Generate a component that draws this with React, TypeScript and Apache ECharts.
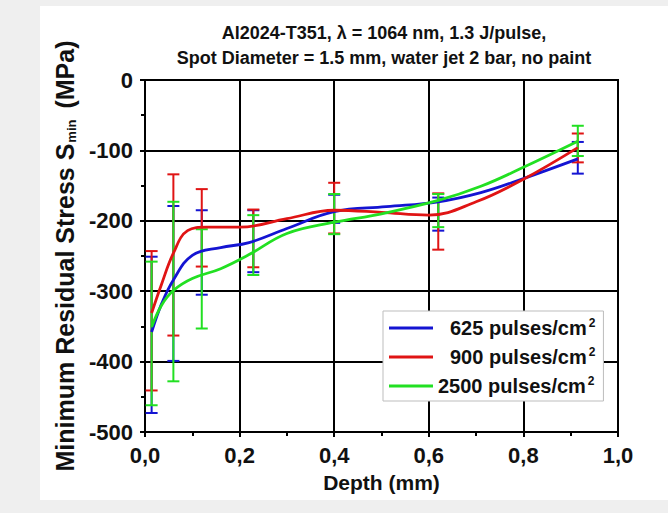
import React, { useEffect, useRef } from "react";
import * as echarts from "echarts";

// ---- data ----
const seriesNames = ["625 pulses/cm²", "900 pulses/cm²", "2500 pulses/cm²"];
const seriesColors = ["#1414d2", "#e01414", "#22e022"];

// fitted curves [depth (mm), stress (MPa)]
const curve625: number[][] = [
  [0.014, -358], [0.035, -318], [0.06, -284], [0.1, -249], [0.16, -238],
  [0.22, -231], [0.3, -211], [0.4, -187], [0.51, -180], [0.62, -173], [0.71, -160],
  [0.8, -140], [0.915, -112],
];
const curve900: number[][] = [
  [0.014, -331], [0.035, -290], [0.06, -246], [0.09, -214], [0.13, -209],
  [0.2, -209], [0.3, -197], [0.4, -185], [0.5, -188], [0.6, -192], [0.7, -173],
  [0.8, -141], [0.915, -96],
];
const curve2500: number[][] = [
  [0.014, -351], [0.035, -320], [0.06, -299], [0.1, -282], [0.16, -268],
  [0.22, -248], [0.3, -218], [0.4, -202], [0.5, -190], [0.62, -171], [0.71, -151],
  [0.8, -124], [0.915, -87],
];

// error bars [depth, low, high]
const err625: number[][] = [
  [0.014, -473, -251], [0.06, -399, -179], [0.12, -305, -185], [0.229, -273, -185],
  [0.4, -203, -163], [0.62, -214, -167], [0.915, -133, -88],
];
const err900: number[][] = [
  [0.014, -441, -243], [0.06, -363, -134], [0.12, -265, -155], [0.229, -266, -184],
  [0.4, -218, -146], [0.62, -241, -161], [0.915, -117, -76],
];
const err2500: number[][] = [
  [0.014, -462, -258], [0.06, -428, -173], [0.12, -353, -212], [0.229, -277, -192],
  [0.4, -219, -162], [0.62, -209, -162], [0.915, -108, -65],
];

const titleText = "Al2024-T351, λ = 1064 nm, 1.3 J/pulse,\nSpot Diameter = 1.5 mm, water jet 2 bar, no paint";
const xAxisName = "Depth (mm)";
const xMin = 0;
const xMax = 1.0;
const xInterval = 0.2;
const yMin = -500;
const yMax = 0;
const yInterval = 100;

const FONT = "'Liberation Sans', Arial, sans-serif";

function errorSeries(data: number[][], color: string, z: number) {
  return {
    type: "custom",
    silent: true,
    z,
    data,
    encode: { x: 0, y: [1, 2] },
    renderItem: (params: any, api: any) => {
      const x = api.value(0);
      const lo = api.coord([x, api.value(1)]);
      const hi = api.coord([x, api.value(2)]);
      const cap = 6;
      const style = { stroke: color, lineWidth: 2, fill: "none" };
      return {
        type: "group",
        children: [
          { type: "line", shape: { x1: lo[0], y1: lo[1], x2: hi[0], y2: hi[1] }, style },
          { type: "line", shape: { x1: lo[0] - cap, y1: lo[1], x2: lo[0] + cap, y2: lo[1] }, style },
          { type: "line", shape: { x1: hi[0] - cap, y1: hi[1], x2: hi[0] + cap, y2: hi[1] }, style },
        ],
      };
    },
  };
}

function lineSeries(name: string, data: number[][], color: string, z: number) {
  return {
    type: "line",
    name,
    data,
    z,
    smooth: 0.4,
    symbol: "none",
    showSymbol: false,
    lineStyle: { color, width: 2.8 },
    itemStyle: { color },
  };
}

export default function App() {
  const ref = useRef<HTMLDivElement>(null);
  useEffect(() => {
    if (!ref.current) return;
    const chart = echarts.init(ref.current, undefined, { renderer: "svg" });
    const curves = [curve625, curve900, curve2500];
    const errs = [err625, err900, err2500];
    const series: any[] = [];
    errs.forEach((e, i) => series.push(errorSeries(e, seriesColors[i], 3 + i)));
    curves.forEach((c, i) => series.push(lineSeries(seriesNames[i], c, seriesColors[i], 6 + i)));

    chart.setOption({
      animation: false,
      backgroundColor: "#efefef",
      textStyle: { fontFamily: FONT },
      graphic: [
        { type: "rect", silent: true, z: -10, shape: { x: 40, y: 6, width: 628, height: 494 }, style: { fill: "#ffffff" } },
      ],
      title: {
        text: titleText,
        left: 379,
        top: 15,
        textAlign: "center",
        textStyle: { fontFamily: FONT, fontSize: 18, fontWeight: "bold", color: "#111", lineHeight: 25 },
      },
      grid: {
        left: 145,
        right: 50,
        top: 80,
        bottom: 81,
        show: true,
        borderColor: "#000",
        borderWidth: 2,
        backgroundColor: "transparent",
      },
      legend: {
        data: seriesNames,
        orient: "vertical",
        left: 383,
        top: 311,
        padding: [6, 8, 5, 6],
        itemGap: 8,
        itemWidth: 44,
        itemHeight: 3,
        icon: "rect",
        backgroundColor: "#ffffff",
        borderColor: "#bdbdbd",
        borderWidth: 1,
        formatter: (name: string) => {
          const base = name.replace("²", "");
          const pad = base.startsWith("2500") ? "" : "{p| }";
          return `${pad}{a|${base}}{s|2}`;
        },
        textStyle: {
          fontFamily: FONT,
          rich: {
            p: { fontFamily: FONT, fontSize: 20, width: 12 },
            a: { fontFamily: FONT, fontSize: 20, fontWeight: "bold", color: "#111" },
            s: { fontFamily: FONT, fontSize: 12, fontWeight: "bold", color: "#111", verticalAlign: "top", padding: [0, 0, 10, 2] },
          },
        },
      },
      xAxis: {
        type: "value",
        min: xMin,
        max: xMax,
        interval: xInterval,
        name: xAxisName,
        nameLocation: "middle",
        nameGap: 40,
        nameTextStyle: { fontFamily: FONT, fontSize: 21, fontWeight: "bold", color: "#111", verticalAlign: "top" },
        axisLine: { show: true, onZero: false, lineStyle: { color: "#000", width: 2 } },
        axisTick: { show: true, length: 5, lineStyle: { color: "#000", width: 2 } },
        minorTick: { show: true, splitNumber: 2, length: 4, lineStyle: { color: "#000", width: 2 } },
        splitLine: { show: true, lineStyle: { color: "#000", width: 2 } },
        axisLabel: {
          margin: 12,
          fontFamily: FONT,
          fontSize: 22,
          fontWeight: "bold",
          color: "#111",
          formatter: (v: number) => v.toFixed(1).replace(".", ","),
        },
      },
      yAxis: {
        type: "value",
        min: yMin,
        max: yMax,
        interval: yInterval,
        name: "Minimum Residual Stress S{sub|min} (MPa)",
        nameLocation: "middle",
        nameGap: 67,
        nameRotate: 90,
        nameTextStyle: {
          fontFamily: FONT,
          fontSize: 25,
          fontWeight: "bold",
          color: "#111",
          rich: {
            sub: { fontFamily: FONT, fontSize: 13, fontWeight: "bold", color: "#111", verticalAlign: "bottom", padding: [14, 4, 0, 1] },
          },
        },
        axisLine: { show: true, onZero: false, lineStyle: { color: "#000", width: 2 } },
        axisTick: { show: true, length: 5, lineStyle: { color: "#000", width: 2 } },
        minorTick: { show: true, splitNumber: 2, length: 4, lineStyle: { color: "#000", width: 2 } },
        splitLine: { show: true, lineStyle: { color: "#000", width: 2 } },
        axisLabel: {
          margin: 12,
          fontFamily: FONT,
          fontSize: 22,
          fontWeight: "bold",
          color: "#111",
        },
      },
      series,
    });
    return () => chart.dispose();
  }, []);
  return (
    <div
      ref={ref}
      style={{ position: "absolute", left: 0, top: 0, width: 668, height: 513 }}
    />
  );
}
